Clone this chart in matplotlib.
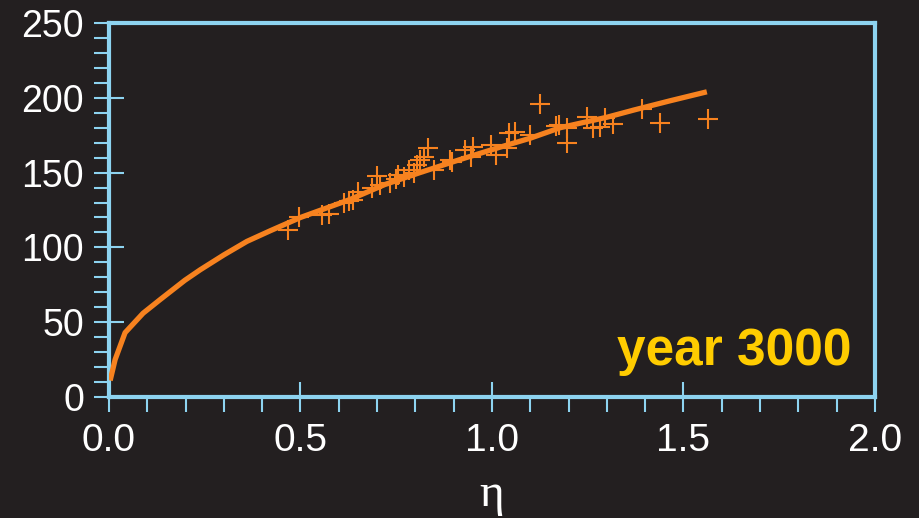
import numpy as np
import matplotlib.pyplot as plt
from matplotlib.ticker import MultipleLocator

# scatter points (eta, value)
eta_pts = [0.467, 0.496, 0.556, 0.574, 0.614, 0.627, 0.637, 0.650, 0.687, 0.700,
           0.708, 0.734, 0.749, 0.755, 0.770, 0.783, 0.796, 0.804, 0.812, 0.822,
           0.833, 0.849, 0.890, 0.896, 0.930, 0.945, 0.950, 0.997, 1.010, 1.039,
           1.044, 1.060, 1.099, 1.125, 1.167, 1.175, 1.196, 1.196, 1.248, 1.264,
           1.282, 1.295, 1.316, 1.392, 1.439, 1.564]
val_pts = [111.6, 120.3, 121.7, 122.3, 129.7, 131.0, 131.7, 137.0, 139.7, 147.7,
           141.7, 143.0, 145.7, 148.4, 147.1, 151.7, 149.7, 155.1, 158.4, 160.4,
           166.4, 151.7, 158.4, 157.1, 165.1, 160.4, 167.1, 168.4, 161.8, 166.4,
           176.5, 177.1, 175.1, 195.9, 181.1, 181.8, 169.8, 179.8, 187.2, 179.8,
           180.5, 186.5, 182.5, 192.5, 183.2, 185.8]

# fitted curve
eta_line = [0.003, 0.016, 0.042, 0.089, 0.133, 0.198, 0.238, 0.30, 0.36, 0.42,
            0.5, 0.629, 0.72, 0.812, 0.92, 1.021, 1.10, 1.178, 1.23, 1.30,
            1.373, 1.465, 1.561]
val_line = [11, 25, 43, 56, 65, 78, 85, 95, 104, 111,
            120, 132, 142, 150, 159, 167, 173, 180, 183, 187,
            192, 198, 204]

bg = '#231f20'
blue = '#8dd3f0'
orange = '#f7821f'

fig = plt.figure(figsize=(9.19, 5.18), dpi=100, facecolor=bg)
ax = fig.add_axes([0.1186, 0.2336, 0.8335, 0.722])
ax.set_facecolor(bg)

ax.plot(eta_line, val_line, color=orange, lw=3.8, solid_capstyle='butt', zorder=3)
ax.plot(eta_pts, val_pts, ls='none', marker='+', ms=14, mew=1.5, color=orange, zorder=3)

ax.set_xlim(0, 2.0)
ax.set_ylim(0, 250)
ax.xaxis.set_major_locator(MultipleLocator(0.5))
ax.xaxis.set_minor_locator(MultipleLocator(0.1))
ax.yaxis.set_major_locator(MultipleLocator(50))
ax.yaxis.set_minor_locator(MultipleLocator(10))
ax.xaxis.set_major_formatter(plt.FuncFormatter(lambda v, p: f'{v:.1f}'))

for s in ax.spines.values():
    s.set_color(blue)
    s.set_linewidth(3)

ax.tick_params(which='major', direction='inout', length=22, width=1.5,
               color=blue, labelcolor='white')
ax.tick_params(which='minor', direction='out', length=11, width=1.5, color=blue)
ax.tick_params(axis='y', which='major', pad=7, labelsize=27)
ax.tick_params(axis='x', which='major', pad=8, labelsize=28)
for lab in ax.get_yticklabels():
    lab.set_fontfamily('Liberation Sans')
for lab in ax.get_xticklabels():
    lab.set_fontfamily(['Liberation Sans Narrow', 'DejaVu Sans Condensed', 'Liberation Sans'])

ax.set_xlabel('η', color='white', fontsize=34, family='Liberation Serif', labelpad=10)

ax.text(0.969, 0.0856, 'year 3000', transform=ax.transAxes, ha='right', va='baseline',
        color='#ffcc00', fontsize=37, fontweight='bold', family='Liberation Sans')

fig.savefig('out.png', dpi=100, facecolor=bg)
